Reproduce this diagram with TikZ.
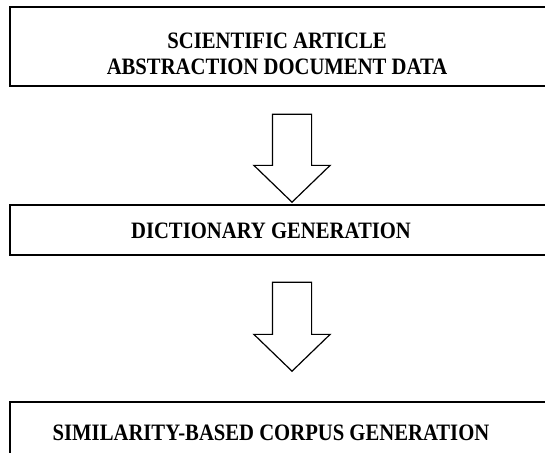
\documentclass[tikz,border=0pt]{standalone}
\usepackage{fontspec}
\newfontfamily\stagefont[FakeStretch=0.88]{Liberation Serif}
\usetikzlibrary{shapes.arrows}

\begin{document}
\begin{tikzpicture}[x=1pt,y=-1pt,
stagebox/.style={draw,rectangle,inner sep=0pt,minimum width=560pt,line width=1.1pt},
stagetext/.style={align=center,inner sep=0pt,font=\stagefont\bfseries\fontsize{23.5}{26}\selectfont},
downarrow/.style={draw,single arrow,rotate=-90,anchor=tip,inner xsep=0pt,inner ysep=19pt,single arrow head extend=18.5pt,single arrow tip angle=92,line width=1.2pt}]
\useasboundingbox (0,0) rectangle (545,452);

\draw (290,46.5) node[stagebox,minimum height=79pt] (data) {};
\draw (277,54) node[stagetext] (datatext) {SCIENTIFIC ARTICLE\\ABSTRACTION DOCUMENT DATA};

\draw (290,230) node[stagebox,minimum height=50pt] (dict) {};
\draw (271,230.5) node[stagetext] (dicttext) {DICTIONARY GENERATION};

\draw (290,432.5) node[stagebox,minimum height=61pt] (corpus) {};
\draw (271,432.5) node[stagetext] (corpustext) {SIMILARITY-BASED CORPUS GENERATION};

% block arrows between the stages
\draw (292,203) node[downarrow,minimum height=88pt] (step1) {};
\draw (292,372) node[downarrow,minimum height=89pt] (step2) {};

\end{tikzpicture}
\end{document}
